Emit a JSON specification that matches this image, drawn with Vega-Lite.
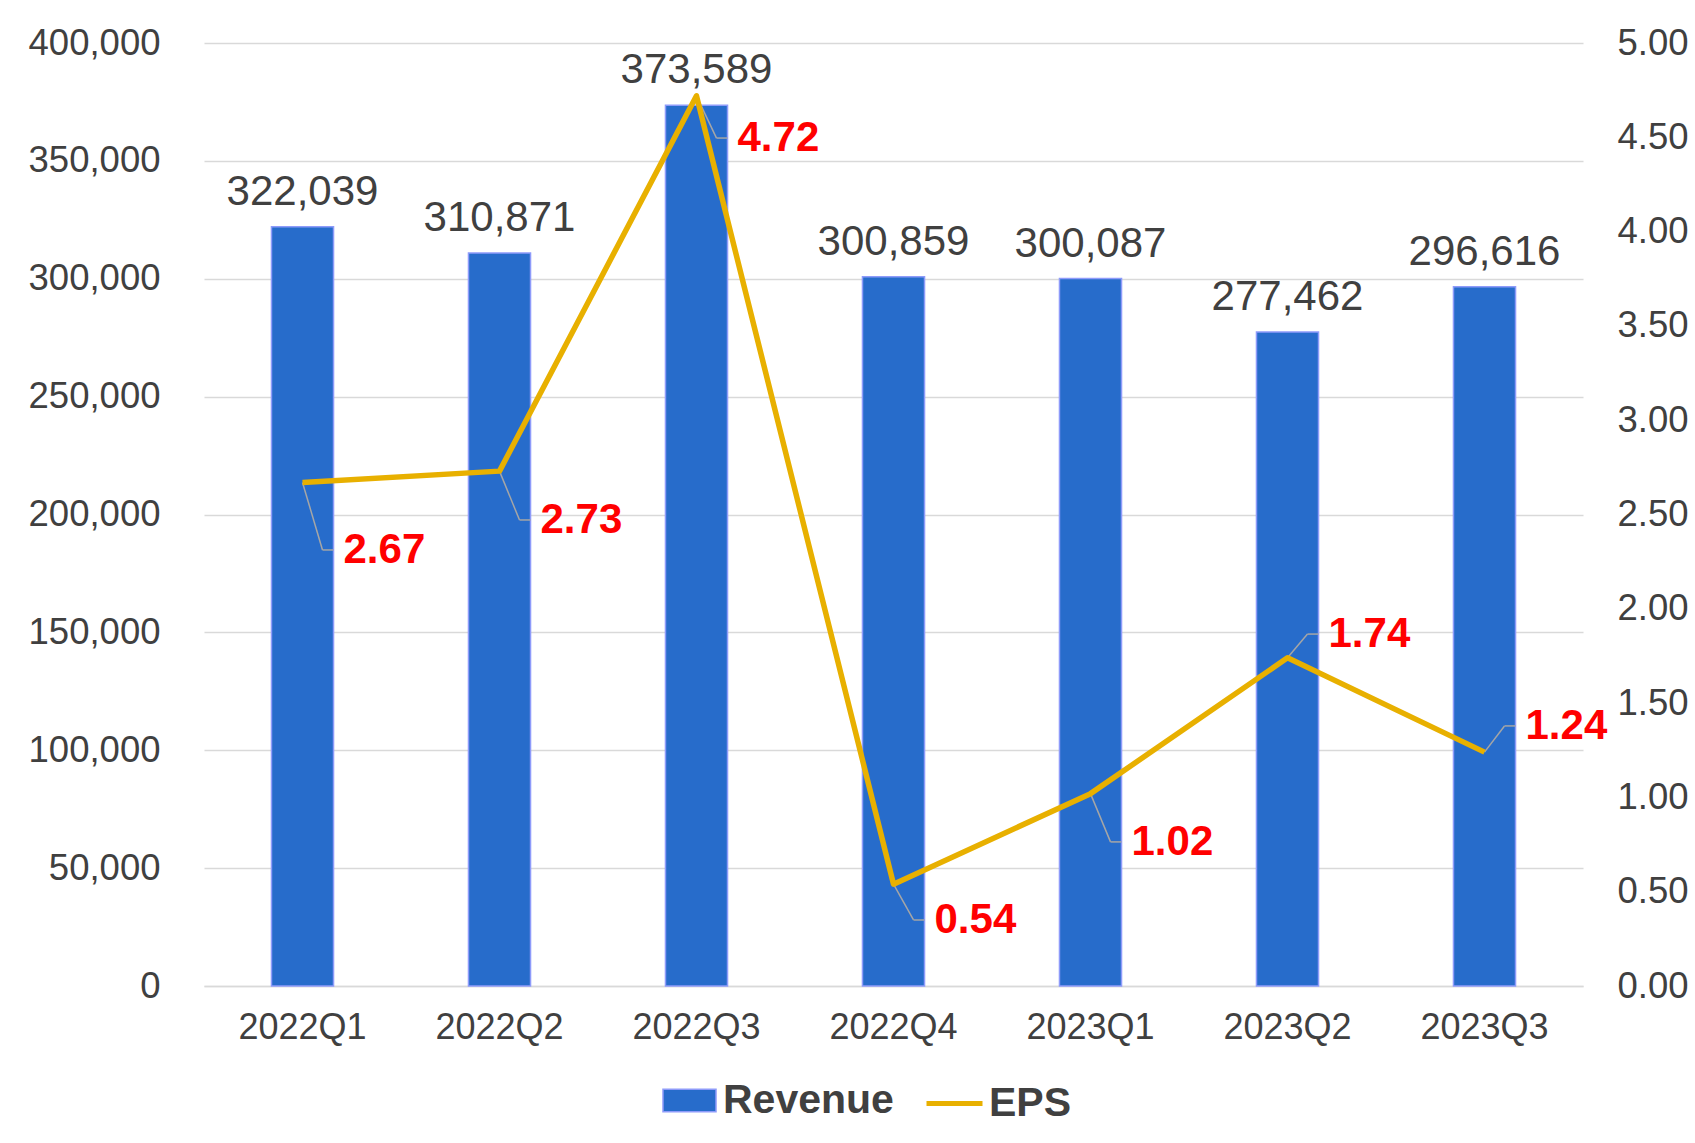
{
  "$schema": "https://vega.github.io/schema/vega-lite/v6.json",
  "width": 1379,
  "height": 943,
  "autosize": {"type": "none"},
  "padding": {"left": 204, "top": 43, "right": 112, "bottom": 157},
  "background": "white",
  "config": {"view": {"stroke": null}, "font": "Liberation Sans"},
  "data": {
    "values": [
      {"q": "2022Q1", "rev": 322039, "eps": 2.67, "lab": 2.312},
      {"q": "2022Q2", "rev": 310871, "eps": 2.73, "lab": 2.471},
      {"q": "2022Q3", "rev": 373589, "eps": 4.72, "lab": 4.496},
      {"q": "2022Q4", "rev": 300859, "eps": 0.54, "lab": 0.35},
      {"q": "2023Q1", "rev": 300087, "eps": 1.02, "lab": 0.764},
      {"q": "2023Q2", "rev": 277462, "eps": 1.74, "lab": 1.866},
      {"q": "2023Q3", "rev": 296616, "eps": 1.24, "lab": 1.379}
    ]
  },
  "encoding": {
    "x": {
      "field": "q",
      "type": "nominal",
      "sort": null,
      "scale": {"paddingInner": 0, "paddingOuter": 0},
      "axis": {
        "title": null,
        "labelAngle": 0,
        "labelFontSize": 36,
        "labelColor": "#404040",
        "labelPadding": 24,
        "ticks": false,
        "domain": true,
        "domainColor": "#D9D9D9",
        "domainWidth": 1.5
      }
    }
  },
  "layer": [
    {
      "encoding": {
        "y": {
          "field": "rev",
          "type": "quantitative",
          "scale": {"domain": [0, 400000], "nice": false},
          "axis": {
            "title": null,
            "values": [0, 50000, 100000, 150000, 200000, 250000, 300000, 350000, 400000],
            "labelExpr": "format(datum.value, ',.0f')",
            "labelFontSize": 36.5,
            "labelColor": "#404040",
            "labelPadding": 44,
            "domain": false,
            "ticks": false,
            "grid": true,
            "gridColor": "#D9D9D9",
            "gridWidth": 1.5
          }
        }
      },
      "layer": [
        {
          "mark": {"type": "bar", "width": {"band": 0.315}, "stroke": "#8E9BFA", "strokeWidth": 1.5},
          "encoding": {
            "fill": {
              "datum": "Revenue",
              "type": "nominal",
              "scale": {"range": ["#276CCB"]},
              "legend": {
                "title": null,
                "orient": "none",
                "legendX": 458,
                "legendY": 1030,
                "padding": 0,
                "symbolType": "M-1,-0.42H1V0.42H-1Z",
                "symbolSize": 2809,
                "symbolStrokeColor": "#8E9BFA",
                "symbolStrokeWidth": 1.5,
                "labelFontSize": 41,
                "labelFontWeight": "bold",
                "labelColor": "#404040",
                "labelOffset": 6,
                "labelLimit": 400
              }
            }
          }
        },
        {
          "mark": {"type": "text", "baseline": "alphabetic", "dy": -22, "fontSize": 42, "color": "#404040"},
          "encoding": {"text": {"field": "rev", "type": "quantitative", "format": ",.0f"}}
        }
      ]
    },
    {
      "layer": [
        {
          "mark": {"type": "rule", "color": "#A6A6A6", "strokeWidth": 1.5, "x2Offset": 20},
          "encoding": {
            "x": {"field": "q", "type": "nominal", "bandPosition": 0.5},
            "x2": {"field": "q", "bandPosition": 0.5},
            "y": {
              "field": "eps",
              "type": "quantitative",
              "scale": {"domain": [0, 5], "nice": false},
              "axis": {
                "title": null,
                "orient": "right",
                "values": [0, 0.5, 1, 1.5, 2, 2.5, 3, 3.5, 4, 4.5, 5],
                "format": ".2f",
                "labelFontSize": 36.5,
                "labelColor": "#404040",
                "labelPadding": 34,
                "labelAlign": "left",
                "domain": false,
                "ticks": false,
                "grid": false
              }
            },
            "y2": {"field": "lab"}
          }
        },
        {
          "mark": {"type": "rule", "color": "#A6A6A6", "strokeWidth": 1.5, "xOffset": 20, "x2Offset": 31},
          "encoding": {
            "x": {"field": "q", "type": "nominal", "bandPosition": 0.5},
            "x2": {"field": "q", "bandPosition": 0.5},
            "y": {
              "field": "lab",
              "type": "quantitative",
              "scale": {"domain": [0, 5], "nice": false},
              "axis": {
                "title": null,
                "orient": "right",
                "values": [0, 0.5, 1, 1.5, 2, 2.5, 3, 3.5, 4, 4.5, 5],
                "format": ".2f",
                "labelFontSize": 36.5,
                "labelColor": "#404040",
                "labelPadding": 34,
                "labelAlign": "left",
                "domain": false,
                "ticks": false,
                "grid": false
              }
            }
          }
        },
        {
          "mark": {"type": "line", "strokeWidth": 5.5, "strokeJoin": "round"},
          "encoding": {
            "y": {
              "field": "eps",
              "type": "quantitative",
              "scale": {"domain": [0, 5], "nice": false},
              "axis": {
                "title": null,
                "orient": "right",
                "values": [0, 0.5, 1, 1.5, 2, 2.5, 3, 3.5, 4, 4.5, 5],
                "format": ".2f",
                "labelFontSize": 36.5,
                "labelColor": "#404040",
                "labelPadding": 34,
                "labelAlign": "left",
                "domain": false,
                "ticks": false,
                "grid": false
              }
            },
            "stroke": {
              "datum": "EPS",
              "type": "nominal",
              "scale": {"range": ["#E8B000"]},
              "legend": {
                "title": null,
                "orient": "none",
                "legendX": 720,
                "legendY": 1030,
                "padding": 0,
                "symbolType": "stroke",
                "symbolSize": 3136,
                "symbolStrokeWidth": 5,
                "labelFontSize": 41,
                "labelFontWeight": "bold",
                "labelColor": "#404040",
                "labelOffset": 4,
                "labelLimit": 400
              }
            }
          }
        },
        {
          "mark": {"type": "text", "align": "left", "baseline": "middle", "dx": 41, "fontSize": 42, "fontWeight": "bold", "color": "#FF0000"},
          "encoding": {
            "y": {
              "field": "lab",
              "type": "quantitative",
              "scale": {"domain": [0, 5], "nice": false},
              "axis": {
                "title": null,
                "orient": "right",
                "values": [0, 0.5, 1, 1.5, 2, 2.5, 3, 3.5, 4, 4.5, 5],
                "format": ".2f",
                "labelFontSize": 36.5,
                "labelColor": "#404040",
                "labelPadding": 34,
                "labelAlign": "left",
                "domain": false,
                "ticks": false,
                "grid": false
              }
            },
            "text": {"field": "eps", "type": "quantitative", "format": ".2f"}
          }
        }
      ]
    }
  ],
  "resolve": {"scale": {"y": "independent"}}
}
